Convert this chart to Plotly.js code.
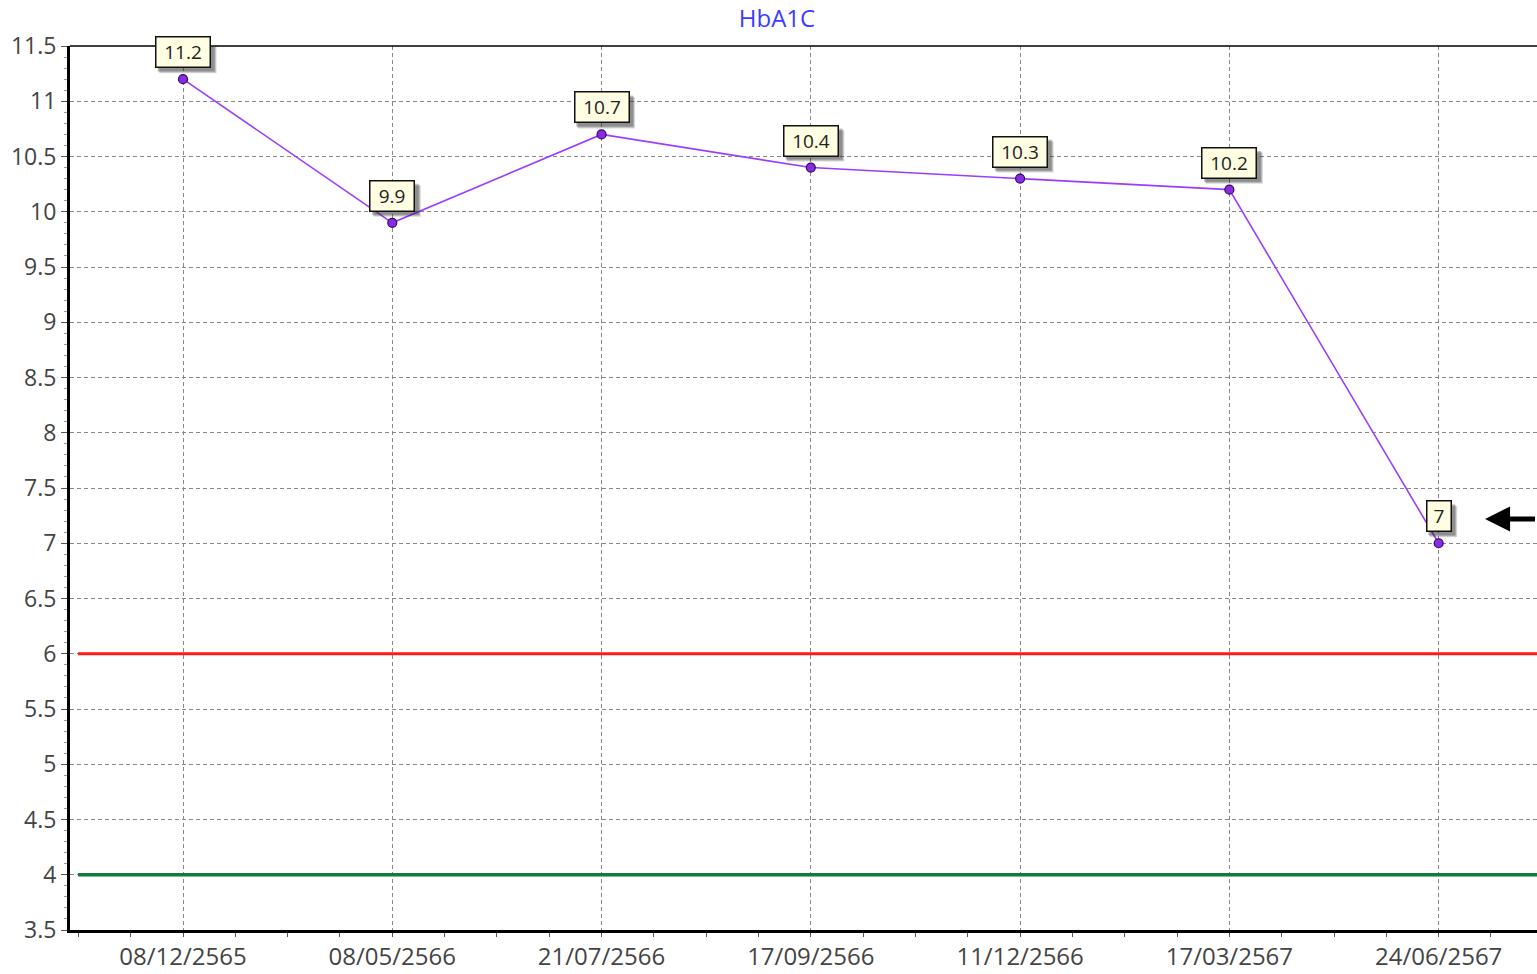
<!DOCTYPE html>
<html>
<head>
<meta charset="utf-8">
<script src="https://cdn.plot.ly/plotly-3.0.1.min.js"></script>
<style>html,body{margin:0;padding:0;background:#fff;}#chart{width:1537px;height:974px;}</style>
</head>
<body>
<div id="chart"></div>
<script>
const dates = ["08/12/2565","08/05/2566","21/07/2566","17/09/2566","11/12/2566","17/03/2567","24/06/2567"];
const hba1c = [11.2, 9.9, 10.7, 10.4, 10.3, 10.2, 7];
const upperLimit = 6;
const lowerLimit = 4;
const yTicks = [3.5,4,4.5,5,5.5,6,6.5,7,7.5,8,8.5,9,9.5,10,10.5,11,11.5];

const idx = dates.map((d,i)=>i);
const fontFam = "'Open Sans', 'Noto Sans', 'DejaVu Sans', sans-serif";

const trace = {
  x: idx, y: hba1c, type: 'scatter', mode: 'lines+markers',
  line: {color: '#9a3dff', width: 1.6},
  marker: {color: '#8a2be2', size: 9, line: {color: '#2a0a60', width: 1.2}},
  hoverinfo: 'x+y', showlegend: false
};

const annotations = [];
const shapes = [
  {type: 'line', xref: 'paper', yref: 'y', x0: 0.0055, x1: 1, y0: upperLimit, y1: upperLimit, line: {color: '#ff1a1a', width: 3}},
  {type: 'line', xref: 'paper', yref: 'y', x0: 0.0055, x1: 1, y0: lowerLimit, y1: lowerLimit, line: {color: '#0f7a3c', width: 3.5}},
  {type: 'line', xref: 'paper', yref: 'paper', x0: 0, x1: 1, y0: 1, y1: 1, line: {color: '#000', width: 1.5}}
];
hba1c.forEach((v,i)=>{
  const n = String(v).length;
  const w = 10*n + 15;
  [[5,0.18],[4,0.22],[3,0.25]].forEach(([o,a])=>{
    shapes.push({
      type: 'rect', layer: 'above', xref: 'x', yref: 'y',
      xsizemode: 'pixel', ysizemode: 'pixel', xanchor: idx[i], yanchor: v,
      x0: -w/2 + o - 1, x1: w/2 + o + 1, y0: 11 - o, y1: 42 - o,
      fillcolor: 'rgba(40,40,40,' + a + ')', line: {width: 0}
    });
  });
  annotations.push({
    x: idx[i], y: v, xref: 'x', yref: 'y', text: String(v), showarrow: false,
    yanchor: 'bottom', yshift: 11, width: w - 4, height: 27,
    font: {family: fontFam, size: 19, color: '#222'},
    bgcolor: '#fffde2', borderpad: 1, borderwidth: 1.5, bordercolor: '#111'
  });
});
// arrow at right edge
annotations.push({
  x: 0.9646, y: 7.22, xref: 'paper', yref: 'y', ax: 54, ay: 0, axref: 'pixel', ayref: 'pixel',
  showarrow: true, arrowhead: 2, arrowsize: 1, arrowwidth: 5, arrowcolor: '#000', text: ' ',
  font: {size: 2}
});

const layout = {
  width: 1537, height: 974,
  margin: {l: 70, r: 0, t: 46, b: 44},
  paper_bgcolor: '#fff', plot_bgcolor: '#fff',
  title: {text: 'HbA1C', font: {family: fontFam, size: 24, color: '#3b3bff'}, x: 0.5055, xanchor: 'center', y: 0.981, yanchor: 'middle'},
  xaxis: {
    type: 'linear', range: [-0.54, 6.47],
    tickvals: idx, ticktext: dates,
    tickfont: {family: fontFam, size: 24, color: '#444'},
    showgrid: true, gridcolor: '#888', griddash: '4px,3px', gridwidth: 1,
    zeroline: false, showline: true, linecolor: '#000', linewidth: 3,
    ticks: 'outside', ticklen: 3, tickcolor: '#555',
    minor: {dtick: 0.25, tick0: 0, ticks: 'outside', ticklen: 4, tickcolor: '#555', showgrid: false},
    fixedrange: true
  },
  yaxis: {
    range: [3.5, 11.5], tickvals: yTicks, ticktext: yTicks.map(String),
    tickfont: {family: fontFam, size: 23, color: '#444'},
    showgrid: true, gridcolor: '#888', griddash: '4px,3px', gridwidth: 1,
    zeroline: false, showline: true, linecolor: '#000', linewidth: 3,
    ticks: 'outside', ticklen: 6, tickcolor: '#555',
    minor: {dtick: 0.1, tick0: 3.5, ticks: 'outside', ticklen: 3, tickcolor: '#999', showgrid: false},
    fixedrange: true
  },
  shapes: shapes,
  annotations: annotations
};

Plotly.newPlot('chart', [trace], layout, {displayModeBar: false, staticPlot: true});
</script>
</body>
</html>
